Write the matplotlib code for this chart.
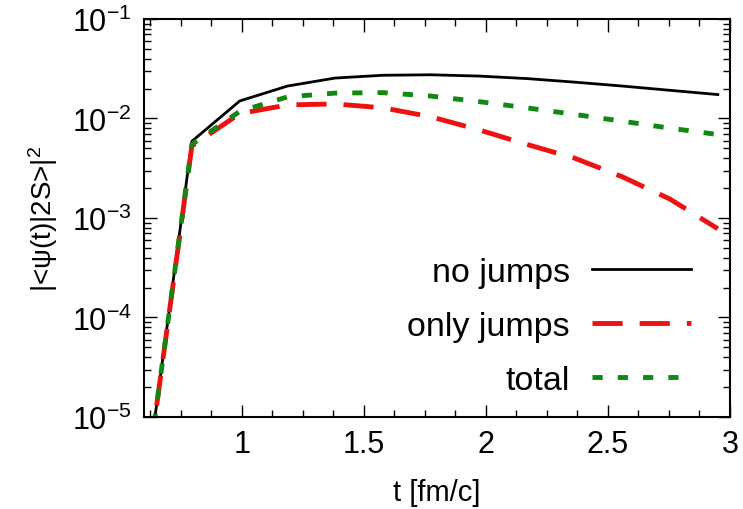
import matplotlib
matplotlib.use("Agg")
import matplotlib.pyplot as plt
from matplotlib.ticker import MultipleLocator, LogLocator, NullFormatter

plt.rcParams['font.family'] = ['Liberation Sans', 'DejaVu Sans']
plt.rcParams['mathtext.fontset'] = 'custom'
plt.rcParams['mathtext.rm'] = 'Liberation Sans'
plt.rcParams['mathtext.it'] = 'Liberation Sans:italic'
plt.rcParams['mathtext.default'] = 'regular'

t = [0.6, 0.796, 0.992, 1.188, 1.383, 1.579, 1.775, 1.971, 2.167, 2.363, 2.558, 2.754, 2.95]
no_jumps = [1.5e-6, 5.9e-3, 0.0150, 0.0212, 0.0255, 0.0272, 0.0275, 0.0267, 0.0252, 0.0232, 0.0212, 0.0192, 0.0174]
only_jumps = [1.5e-6, 5.3e-3, 0.0112, 0.0137, 0.0140, 0.0128, 0.0104, 0.0077, 0.0055, 0.0040, 0.0026, 0.00155, 0.00078]
total = [1.5e-6, 5.5e-3, 0.0118, 0.0165, 0.0180, 0.0182, 0.0168, 0.0148, 0.0128, 0.0110, 0.0094, 0.0080, 0.0069]

labels = ["no jumps", "only jumps", "total"]
xticks = [1, 1.5, 2, 2.5, 3]
xtick_labels = ["1", "1.5", "2", "2.5", "3"]
yticks = [1e-5, 1e-4, 1e-3, 1e-2, 1e-1]
ytick_labels = [r"$10^{-5}$", r"$10^{-4}$", r"$10^{-3}$", r"$10^{-2}$", r"$10^{-1}$"]

fig = plt.figure(figsize=(7.43, 5.10), dpi=100)
ax = fig.add_axes([144/743, 1-418/510, (730-144)/743, (418-20)/510])

ax.plot(t, no_jumps, color='black', lw=2.0, label=labels[0])
ax.plot(t, only_jumps, color='#ee1111', lw=3.5, dashes=(6.2, 3.5), label=labels[1])
ax.plot(t, total, color='#118811', lw=3.5, dashes=(2.1, 3.1), label=labels[2])

ax.set_yscale('log')
ax.set_xlim(0.6, 3.0)
ax.set_ylim(1e-5, 1e-1)

ax.set_xticks(xticks)
ax.set_xticklabels(xtick_labels)
ax.xaxis.set_minor_locator(MultipleLocator(0.125))
ax.set_yticks(yticks)
ax.set_yticklabels(ytick_labels)
ax.yaxis.set_minor_locator(LogLocator(base=10, subs=range(2, 10)))
ax.yaxis.set_minor_formatter(NullFormatter())

ax.tick_params(which='both', direction='in', top=True, right=True, width=1.0)
ax.tick_params(which='major', length=9, labelsize=22, pad=9)
ax.tick_params(which='minor', length=5)
for s in ax.spines.values():
    s.set_linewidth(1.5)

ax.set_xlabel("t [fm/c]", fontsize=21, labelpad=13)
ax.set_ylabel(r"|<ψ(t)|2S>|$^2$", fontsize=20, labelpad=8)

leg = ax.legend(loc='lower right', bbox_to_anchor=(0.985, -0.025), frameon=False,
                markerfirst=False, fontsize=24.5, handlelength=2.9, handletextpad=0.65,
                labelspacing=0.68)

fig.savefig("out.png", dpi=100)
